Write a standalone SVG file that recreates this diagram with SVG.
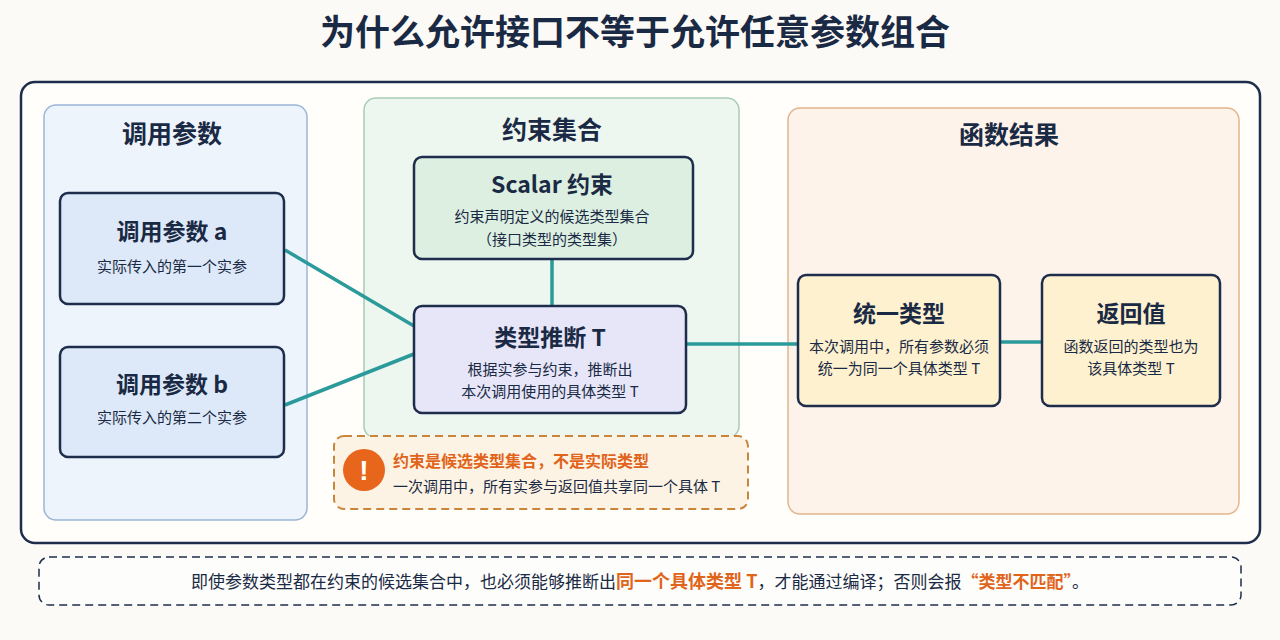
<svg xmlns="http://www.w3.org/2000/svg" width="1280" height="640" viewBox="0 0 1280 640">
<style>
text{font-family:"Noto Sans CJK SC","Noto Sans",sans-serif;fill:#1a2a44;text-anchor:middle}
.h{font-size:25px;font-weight:700}
.t{font-size:23px;font-weight:700}
.s{font-size:15px}
.node{stroke:#1f2d4d;stroke-width:2.5}
.con{stroke:#2a9a9a;stroke-width:3.5;fill:none}
</style>
<rect width="1280" height="640" fill="#fbfaf6"/>
<text x="635" y="45" style="font-size:35px;font-weight:700">为什么允许接口不等于允许任意参数组合</text>
<rect x="21" y="82" width="1239" height="461" rx="14" fill="#fffefb" stroke="#1f2d4d" stroke-width="2.5"/>
<g id="panel-args"><rect x="44" y="105" width="263" height="415" rx="12" fill="#eef4fc" stroke="#9bb5d8" stroke-width="1.5"/><text x="172" y="143" class="h">调用参数</text></g>
<g id="panel-constraint"><rect x="364" y="98" width="375" height="340" rx="12" fill="#eef6f0" stroke="#a8cbb4" stroke-width="1.5"/><text x="552" y="139" class="h">约束集合</text></g>
<g id="panel-result"><rect x="788" y="108" width="451" height="406" rx="12" fill="#fdf3ea" stroke="#e1b58c" stroke-width="1.5"/><text x="1009" y="144" class="h">函数结果</text></g>
<g id="connectors">
<line class="con" x1="285" y1="250" x2="414" y2="326"/>
<line class="con" x1="285" y1="405" x2="414" y2="354"/>
<line class="con" x1="552" y1="260" x2="552" y2="306"/>
<line class="con" x1="686" y1="344" x2="798" y2="344"/>
<line class="con" x1="1000" y1="342" x2="1042" y2="342"/>
</g>
<g id="arg-a"><rect class="node" x="60" y="193" width="224" height="111" rx="8" fill="#dde9f8"/><text x="172" y="240" class="t">调用参数 a</text><text x="172" y="272" class="s">实际传入的第一个实参</text></g>
<g id="arg-b"><rect class="node" x="60" y="347" width="224" height="110" rx="8" fill="#dde9f8"/><text x="172" y="393" class="t">调用参数 b</text><text x="172" y="423" class="s">实际传入的第二个实参</text></g>
<g id="scalar"><rect class="node" x="414" y="157" width="279" height="102" rx="8" fill="#dcefe0"/><text x="552" y="193" class="t">Scalar 约束</text><text x="552" y="222" class="s">约束声明定义的候选类型集合</text><text x="552" y="245" class="s">（接口类型的类型集）</text></g>
<g id="infer"><rect class="node" x="414" y="306" width="272" height="107" rx="8" fill="#e6e6f8"/><text x="550" y="346" class="t">类型推断 T</text><text x="550" y="375" class="s">根据实参与约束，推断出</text><text x="550" y="397" class="s">本次调用使用的具体类型 T</text></g>
<g id="unify"><rect class="node" x="798" y="275" width="202" height="131" rx="8" fill="#fdf1cf"/><text x="899" y="322" class="t">统一类型</text><text x="899" y="352" class="s">本次调用中，所有参数必须</text><text x="899" y="374" class="s">统一为同一个具体类型 T</text></g>
<g id="ret"><rect class="node" x="1042" y="275" width="178" height="131" rx="8" fill="#fdf1cf"/><text x="1131" y="322" class="t">返回值</text><text x="1131" y="352" class="s">函数返回的类型也为</text><text x="1131" y="374" class="s">该具体类型 T</text></g>
<g id="warn"><rect x="334" y="436" width="414" height="73" rx="10" fill="#fdf3e4" stroke="#c9863a" stroke-width="2" stroke-dasharray="8,5"/><circle cx="364" cy="470" r="21" fill="#e8661c"/><text x="364" y="480" style="font-size:28px;font-weight:700;fill:#fff;font-family:'Liberation Sans',sans-serif">!</text><text x="393" y="467" style="font-size:16px;font-weight:700;fill:#e0641a;text-anchor:start">约束是候选类型集合，不是实际类型</text><text x="393" y="492" style="font-size:15px;text-anchor:start">一次调用中，所有实参与返回值共享同一个具体 T</text></g>
<g id="note"><rect x="39" y="557" width="1202" height="48" rx="10" fill="#fdfdfb" stroke="#1f2d4d" stroke-width="1.5" stroke-dasharray="8,5"/><text x="640" y="588" style="font-size:17px">即使参数类型都在约束的候选集合中，也必须能够推断出<tspan style="fill:#e0641a;font-weight:700;font-size:18px">同一个具体类型 T</tspan>，才能通过编译；否则会报<tspan style="fill:#e0641a;font-weight:700">“类型不匹配”</tspan>。</text></g>
</svg>
